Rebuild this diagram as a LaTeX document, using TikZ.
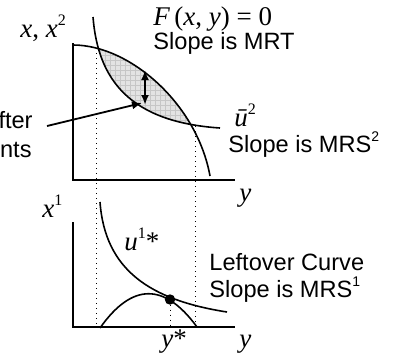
\documentclass[tikz,border=0pt]{standalone}
\usepackage{fontspec}
\setmainfont{Liberation Sans}
\newfontfamily\tms{Liberation Serif}
\usetikzlibrary{arrows.meta}
\newcommand{\supr}[1]{\raisebox{5.5pt}{\fontsize{7}{8}\selectfont #1}}
\newcommand{\msupr}[1]{\raisebox{6pt}{\fontsize{8}{9}\selectfont #1}}
\begin{document}
\begin{tikzpicture}[x=0.5pt,y=-0.5pt,
  axis/.style={line width=1pt},
  curve/.style={line width=0.8pt},
  guide/.style={line width=0.5pt, dotted},
  lbl/.style={inner sep=0pt, font=\fontsize{11.8}{14}\selectfont},
  mlbl/.style={inner sep=0pt, font=\tms\fontsize{13.5}{16}\selectfont},
  tip/.style={-{Latex[length=5pt,width=4pt]}},
]
\useasboundingbox (0,0) rectangle (396,354);

% key points
\coordinate (TA) at (73,43);
\coordinate (TO) at (73,180);
\coordinate (TX) at (235,180);
\coordinate (BA) at (73,222);
\coordinate (BO) at (73,327);
\coordinate (BX) at (235,327);
\coordinate (P0) at (73,45);
\coordinate (P1) at (210,176);
\coordinate (I0) at (93,17);
\coordinate (I1) at (220,128);
\coordinate (A) at (96,48);
\coordinate (B) at (195,126);
\coordinate (Ab) at (96,327);
\coordinate (Bb) at (195,327);
\coordinate (D) at (170,299.5);
\coordinate (Db) at (170,327);
\coordinate (U0) at (100,202);
\coordinate (U1) at (227,312);
\coordinate (H0) at (100,328);
\coordinate (H1) at (197,327);
\coordinate (ArT) at (145,70);
\coordinate (ArB) at (145,105);
\coordinate (Ps) at (47,126);
\coordinate (Pe) at (142,103);

% shaded lens
\begin{scope}
\clip (P0) .. controls (130,45) and (197,104) .. (P1) -- (73,176) -- cycle;
\clip (I0) .. controls (98,80) and (130,122) .. (I1) -- (260,128) -- (260,0) -- (93,0) -- cycle;
\fill[gray!22] (70,0) rectangle (260,180);
\draw[gray!45, line width=0.25pt, step=2.5pt] (70,0) grid (260,180);
\end{scope}

% dotted guides
\draw[guide] (A) -- (Ab);
\draw[guide] (B) -- (Bb);
\draw[guide] (D) -- (Db);

% axes
\draw[axis] (TA) -- (TO) -- (TX);
\draw[axis] (BA) -- (BO) -- (BX);

% top curves
\draw[curve] (P0) .. controls (130,45) and (197,104) .. (P1);
\draw[curve] (I0) .. controls (98,80) and (130,122) .. (I1);

% bottom curves
\draw[curve] (U0) .. controls (105,270) and (150,300) .. (U1);
\draw[curve] (H0) .. controls (132,282.7) and (164.3,282.3) .. (H1);
\fill (D) circle (2.6pt);

% arrows
\draw[{Latex[length=5pt,width=4pt]}-{Latex[length=5pt,width=4pt]}, line width=1pt] (ArT) -- (ArB);
\draw[tip, line width=0.9pt] (Ps) -- (Pe);

% labels
\node[mlbl, anchor=base west] (lxx) at (20,37) {\itshape x\upshape, \itshape x\upshape\msupr{2}};
\node[mlbl, anchor=base west] (lF) at (153,25) {\itshape F\,\upshape(\itshape x\upshape, \itshape y\upshape) = 0};
\node[lbl, anchor=base west] (lMRT) at (153,49) {Slope is MRT};
\node[mlbl, anchor=base west] (lu2) at (234,126) {\itshape ū\upshape\msupr{2}};
\node[lbl, anchor=base west] (lMRS2) at (228,152) {Slope is MRS\supr{2}};
\node[mlbl, anchor=base west] (ly1) at (239,201) {\itshape y};
\node[mlbl, anchor=base west] (lx1) at (42,217) {\itshape x\upshape\msupr{1}};
\node[mlbl, anchor=base west] (lu1) at (124,250) {\itshape u\upshape\msupr{1}*};
\node[lbl, anchor=base west] (lLC) at (209,270) {Leftover Curve};
\node[lbl, anchor=base west] (lMRS1) at (209,297) {Slope is MRS\supr{1}};
\node[mlbl, anchor=base west] (lys) at (161,347) {\itshape y\upshape*};
\node[mlbl, anchor=base west] (ly2) at (239,347) {\itshape y};
\node[lbl, anchor=base east] (lfter) at (33,128) {fter};
\node[lbl, anchor=base east] (lnts) at (32,157) {nts};
\end{tikzpicture}
\end{document}
